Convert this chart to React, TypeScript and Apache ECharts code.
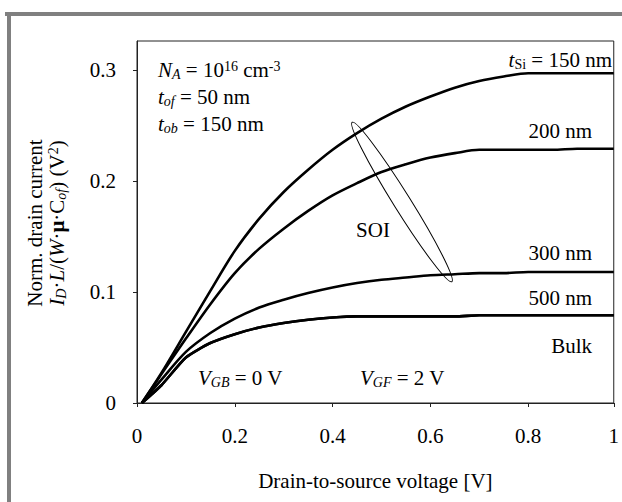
import React, { useEffect, useRef } from "react";
import * as echarts from "echarts";

// Drain-to-source voltage [V]
const vds = [0.01, 0.05, 0.1, 0.15, 0.2, 0.25, 0.3, 0.35, 0.4, 0.45, 0.5, 0.55, 0.6, 0.65, 0.7, 0.75, 0.8, 0.85, 0.9, 0.975];
// Normalized drain current (V^2)
const soi150 = [0, 0.027, 0.064, 0.101, 0.137, 0.166, 0.19, 0.21, 0.228, 0.243, 0.256, 0.267, 0.276, 0.284, 0.29, 0.294, 0.297, 0.297, 0.297, 0.297];
const soi200 = [0, 0.026, 0.058, 0.089, 0.117, 0.139, 0.157, 0.173, 0.187, 0.198, 0.208, 0.215, 0.221, 0.225, 0.228, 0.228, 0.228, 0.228, 0.229, 0.229];
const soi300 = [0, 0.021, 0.046, 0.063, 0.076, 0.086, 0.093, 0.099, 0.104, 0.108, 0.111, 0.113, 0.115, 0.116, 0.117, 0.117, 0.118, 0.118, 0.118, 0.118];
const soi500 = [0, 0.016, 0.041, 0.054, 0.062, 0.068, 0.072, 0.075, 0.077, 0.078, 0.078, 0.078, 0.078, 0.078, 0.079, 0.079, 0.079, 0.079, 0.079, 0.079];
const bulk = [0, 0.016, 0.041, 0.054, 0.062, 0.068, 0.072, 0.075, 0.077, 0.078, 0.078, 0.078, 0.078, 0.078, 0.079, 0.079, 0.079, 0.079, 0.079, 0.079];

const xTickValues = [0, 0.2, 0.4, 0.6, 0.8, 0.975];
const xTickLabels = ["0", "0.2", "0.4", "0.6", "0.8", "1"];
const yTickValues = [0, 0.1, 0.2, 0.3];
const yTickLabels = ["0", "0.1", "0.2", "0.3"];

const FONT = "'Liberation Serif', 'Times New Roman', serif";
const FS = 21;

const rich = {
  i: { fontFamily: FONT, fontSize: FS, fontStyle: "italic", lineHeight: 22, fill: "#000" },
  b: { fontFamily: FONT, fontSize: FS, fontWeight: "bold", lineHeight: 22, fill: "#000" },
  isub: { fontFamily: FONT, fontSize: 14, fontStyle: "italic", lineHeight: 8, verticalAlign: "bottom", fill: "#000" },
  sub: { fontFamily: FONT, fontSize: 14, lineHeight: 8, verticalAlign: "bottom", fill: "#000" },
  sup: { fontFamily: FONT, fontSize: 14, lineHeight: 8, verticalAlign: "top", fill: "#000" },
};

function txt(text: string, x: number, y: number, align: string = "left", rotation = 0) {
  return {
    type: "text",
    x,
    y,
    rotation,
    silent: true,
    style: {
      text,
      rich,
      fontFamily: FONT,
      fontSize: FS,
      lineHeight: 22,
      fill: "#000",
      align,
      verticalAlign: "middle",
    },
  };
}

function pairs(ys: number[]) {
  return vds.map((x, i) => [x, ys[i]]);
}

function lineSeries(name: string, ys: number[], smooth = 0.3) {
  return {
    name,
    type: "line",
    data: pairs(ys),
    showSymbol: false,
    smooth,
    lineStyle: { color: "#000", width: 2.6 },
    itemStyle: { color: "#000" },
  };
}

export default function App() {
  const ref = useRef<HTMLDivElement>(null);
  useEffect(() => {
    if (!ref.current) return;
    const chart = echarts.init(ref.current, null, { renderer: "svg" });
    const angle = Math.atan2(160, 100);
    chart.setOption({
      animation: false,
      backgroundColor: "#fff",
      grid: {
        left: 137,
        top: 41,
        right: 5,
        bottom: 99,
        show: true,
        borderColor: "#222",
        borderWidth: 1,
        backgroundColor: "transparent",
      },
      xAxis: {
        type: "value",
        min: 0,
        max: 0.975,
        axisLine: { show: true, lineStyle: { color: "#222", width: 1 } },
        axisTick: { show: true, length: 4, customValues: xTickValues, lineStyle: { color: "#222" } },
        splitLine: { show: false },
        axisLabel: {
          customValues: xTickValues,
          formatter: (v: number) => xTickLabels[xTickValues.findIndex((t) => Math.abs(t - v) < 1e-6)] ?? "",
          fontFamily: FONT,
          fontSize: FS,
          color: "#000",
          margin: 22,
        },
        name: "Drain-to-source voltage [V]",
        nameLocation: "middle",
        nameGap: 67,
        nameTextStyle: { fontFamily: FONT, fontSize: FS, color: "#000" },
      },
      yAxis: {
        type: "value",
        min: 0,
        max: 0.326,
        axisLine: { show: true, lineStyle: { color: "#222", width: 1 } },
        axisTick: { show: true, length: 4, customValues: yTickValues, lineStyle: { color: "#222" } },
        splitLine: { show: false },
        axisLabel: {
          customValues: yTickValues,
          formatter: (v: number) => yTickLabels[yTickValues.findIndex((t) => Math.abs(t - v) < 1e-6)] ?? "",
          fontFamily: FONT,
          fontSize: FS,
          color: "#000",
          margin: 21,
        },
      },
      series: [
        lineSeries("tSi = 150 nm", soi150),
        lineSeries("200 nm", soi200),
        lineSeries("300 nm", soi300),
        lineSeries("500 nm", soi500, 0.2),
        lineSeries("Bulk", bulk, 0.2),
      ],
      graphic: [
        { type: "rect", silent: true, shape: { x: 5, y: 12, width: 617, height: 4 }, style: { fill: "#808080" } },
        { type: "rect", silent: true, shape: { x: 7, y: 12, width: 4, height: 490 }, style: { fill: "#808080" } },
        txt("Norm. drain current", 35, 223, "center", Math.PI / 2),
        txt("{i|I}{isub|D}·{i|L}/({i|W}·{b|μ}·C{isub|of}) (V{sup|2})", 57, 223, "center", Math.PI / 2),
        txt("{i|N}{isub|A} = 10{sup|16} cm{sup|-3}", 158, 70),
        txt("{i|t}{isub|of} = 50 nm", 158, 97),
        txt("{i|t}{isub|ob} = 150 nm", 158, 124),
        txt("{i|t}{sub|Si} = 150 nm", 612, 60, "right"),
        txt("200 nm", 592, 131, "right"),
        txt("SOI", 373, 230, "center"),
        txt("300 nm", 592, 253, "right"),
        txt("500 nm", 592, 298, "right"),
        txt("Bulk", 592, 346, "right"),
        txt("{i|V}{isub|GB} = 0 V", 198, 378),
        txt("{i|V}{isub|GF} = 2 V", 360, 378),
        {
          type: "ellipse",
          silent: true,
          x: 402,
          y: 202,
          rotation: -angle,
          shape: { cx: 0, cy: 0, rx: 94, ry: 8.5 },
          style: { fill: "none", stroke: "#000", lineWidth: 1 },
        },
      ],
    });
    return () => chart.dispose();
  }, []);
  return (
    <div
      ref={ref}
      style={{ position: "absolute", left: 0, top: 0, width: 622, height: 502, background: "#fff" }}
    />
  );
}
